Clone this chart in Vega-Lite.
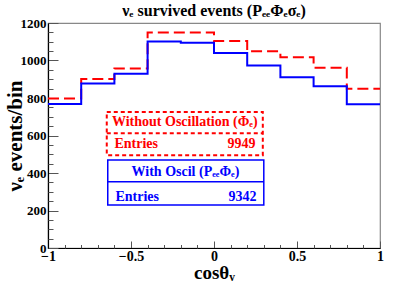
{
  "$schema": "https://vega.github.io/schema/vega-lite/v6.json",
  "width": 332,
  "height": 225,
  "autosize": "none",
  "padding": {"left": 48, "top": 23, "right": 35, "bottom": 35},
  "background": "white",
  "config": {
    "view": {"stroke": "#888888", "strokeWidth": 1.2},
    "font": "Liberation Serif",
    "axis": {"grid": false, "domain": false, "tickColor": "#555555", "tickWidth": 1, "labelOverlap": false, "labelFlush": false, "zindex": 1}
  },
  "title": {
    "text": "νₑ survived events (PₑₑΦₑσₑ)",
    "font": "Liberation Serif",
    "fontSize": 16,
    "fontWeight": "bold",
    "color": "black",
    "offset": -2,
    "anchor": "middle"
  },
  "resolve": {"axis": {"x": "independent", "y": "independent"}},
  "datasets": {
    "hist": [
      {"cos": -1.0, "events": 797, "series": "Without Oscillation"},
      {"cos": -0.8, "events": 902, "series": "Without Oscillation"},
      {"cos": -0.6, "events": 958, "series": "Without Oscillation"},
      {"cos": -0.4, "events": 1150, "series": "Without Oscillation"},
      {"cos": -0.2, "events": 1150, "series": "Without Oscillation"},
      {"cos": 0.0, "events": 1104, "series": "Without Oscillation"},
      {"cos": 0.2, "events": 1050, "series": "Without Oscillation"},
      {"cos": 0.4, "events": 1017, "series": "Without Oscillation"},
      {"cos": 0.6, "events": 962, "series": "Without Oscillation"},
      {"cos": 0.8, "events": 849, "series": "Without Oscillation"},
      {"cos": 1.0, "events": 849, "series": "Without Oscillation"},
      {"cos": -1.0, "events": 768, "series": "With Oscil"},
      {"cos": -0.8, "events": 877, "series": "With Oscil"},
      {"cos": -0.6, "events": 930, "series": "With Oscil"},
      {"cos": -0.4, "events": 1101, "series": "With Oscil"},
      {"cos": -0.2, "events": 1095, "series": "With Oscil"},
      {"cos": 0.0, "events": 1040, "series": "With Oscil"},
      {"cos": 0.2, "events": 974, "series": "With Oscil"},
      {"cos": 0.4, "events": 911, "series": "With Oscil"},
      {"cos": 0.6, "events": 863, "series": "With Oscil"},
      {"cos": 0.8, "events": 767, "series": "With Oscil"},
      {"cos": 1.0, "events": 767, "series": "With Oscil"}
    ],
    "boxes": [
      {"x1": -0.646, "x2": 0.294, "y1": 495, "y2": 726, "ymid": 612, "series": "Without Oscillation"},
      {"x1": -0.640, "x2": 0.300, "y1": 229, "y2": 469, "ymid": 353, "series": "With Oscil"}
    ],
    "labels": [
      {"x": -0.176, "y": 671, "text": "Without Oscillation (Φₑ)", "align": "center", "series": "Without Oscillation"},
      {"x": -0.600, "y": 554, "text": "Entries", "align": "left", "series": "Without Oscillation"},
      {"x": 0.250, "y": 554, "text": "9949", "align": "right", "series": "Without Oscillation"},
      {"x": -0.172, "y": 406, "text": "With Oscil (PₑₑΦₑ)", "align": "center", "series": "With Oscil"},
      {"x": -0.594, "y": 273, "text": "Entries", "align": "left", "series": "With Oscil"},
      {"x": 0.256, "y": 273, "text": "9342", "align": "right", "series": "With Oscil"}
    ]
  },
  "layer": [
    {
      "data": {"name": "boxes"},
      "transform": [{"filter": "datum.series === 'Without Oscillation'"}],
      "mark": {"type": "rect", "fill": "white", "stroke": "#ff0000", "strokeWidth": 2, "strokeDash": [4, 3]},
      "encoding": {
        "x": {"field": "x1", "type": "quantitative", "scale": {"domain": [-1, 1], "nice": false, "zero": false},
          "axis": {"orient": "bottom", "title": "cosθᵥ",
            "titleFont": "Liberation Serif", "titleFontSize": 19, "titleFontWeight": "bold", "titleColor": "black", "titlePadding": 0,
            "values": [-1, -0.5, 0, 0.5, 1],
            "labelExpr": "replace(format(datum.value, '~g'), '-', '−')",
            "labelFont": "Liberation Serif", "labelFontSize": 14, "labelFontWeight": "bold", "labelColor": "black",
            "labelPadding": 1, "ticks": true, "tickSize": 0,
            "domain": true, "domainColor": "black", "domainWidth": 1.2,
            "encoding": {"ticks": {"y2": {"value": -7}}}}},
        "x2": {"field": "x2"},
        "y": {"field": "y1", "type": "quantitative", "scale": {"domain": [0, 1200], "nice": false},
          "axis": {"orient": "left", "title": "νₑ events/bin",
            "titleFont": "Liberation Serif", "titleFontSize": 21, "titleFontWeight": "bold", "titleColor": "black", "titlePadding": -5,
            "values": [0, 200, 400, 600, 800, 1000, 1200], "format": "d",
            "labelFont": "Liberation Serif", "labelFontSize": 13, "labelFontWeight": "bold", "labelColor": "black",
            "labelPadding": 2, "ticks": true, "tickSize": 0,
            "domain": true, "domainColor": "black", "domainWidth": 1.2,
            "encoding": {"ticks": {"x2": {"value": 10}}}}},
        "y2": {"field": "y2"}
      }
    },
    {
      "data": {"name": "boxes"},
      "transform": [{"filter": "datum.series === 'Without Oscillation'"}],
      "mark": {"type": "rule", "color": "#ff0000", "strokeWidth": 2, "strokeDash": [4, 3]},
      "encoding": {
        "x": {"field": "x1", "type": "quantitative",
          "axis": {"orient": "top", "offset": -225, "title": null, "labels": false,
            "values": [-0.9, -0.8, -0.7, -0.6, -0.4, -0.3, -0.2, -0.1, 0.1, 0.2, 0.3, 0.4, 0.6, 0.7, 0.8, 0.9], "tickSize": 3.5}},
        "x2": {"field": "x2"},
        "y": {"field": "ymid", "type": "quantitative",
          "axis": {"orient": "right", "offset": -332, "title": null, "labels": false,
            "values": [50, 100, 150, 250, 300, 350, 450, 500, 550, 650, 700, 750, 850, 900, 950, 1050, 1100, 1150], "tickSize": 5}}
      }
    },
    {
      "data": {"name": "boxes"},
      "transform": [{"filter": "datum.series === 'With Oscil'"}],
      "mark": {"type": "rect", "fill": "white", "stroke": "#0000ff", "strokeWidth": 1.5},
      "encoding": {
        "x": {"field": "x1", "type": "quantitative", "axis": null},
        "x2": {"field": "x2"},
        "y": {"field": "y1", "type": "quantitative", "axis": null},
        "y2": {"field": "y2"}
      }
    },
    {
      "data": {"name": "boxes"},
      "transform": [{"filter": "datum.series === 'With Oscil'"}],
      "mark": {"type": "rule", "color": "#0000ff", "strokeWidth": 1.5},
      "encoding": {
        "x": {"field": "x1", "type": "quantitative", "axis": null},
        "x2": {"field": "x2"},
        "y": {"field": "ymid", "type": "quantitative", "axis": null}
      }
    },
    {
      "data": {"name": "hist"},
      "transform": [{"filter": "datum.series === 'Without Oscillation'"}],
      "mark": {"type": "line", "interpolate": "step-after", "strokeWidth": 2, "color": "#ff0000", "strokeDash": [11, 5]},
      "encoding": {
        "x": {"field": "cos", "type": "quantitative", "axis": null},
        "y": {"field": "events", "type": "quantitative", "axis": null}
      }
    },
    {
      "data": {"name": "hist"},
      "transform": [{"filter": "datum.series === 'With Oscil'"}],
      "mark": {"type": "line", "interpolate": "step-after", "strokeWidth": 2, "color": "#0000ff"},
      "encoding": {
        "x": {"field": "cos", "type": "quantitative", "axis": null},
        "y": {"field": "events", "type": "quantitative", "axis": null}
      }
    },
    {
      "data": {"name": "labels"},
      "transform": [{"filter": "datum.align === 'center'"}],
      "mark": {"type": "text", "font": "Liberation Serif", "fontSize": 14, "fontWeight": "bold", "baseline": "middle", "align": "center"},
      "encoding": {
        "x": {"field": "x", "type": "quantitative", "axis": null},
        "y": {"field": "y", "type": "quantitative", "axis": null},
        "text": {"field": "text"},
        "color": {"field": "series", "type": "nominal",
          "scale": {"domain": ["Without Oscillation", "With Oscil"], "range": ["#ff0000", "#0000ff"]}, "legend": null}
      }
    },
    {
      "data": {"name": "labels"},
      "transform": [{"filter": "datum.align === 'left'"}],
      "mark": {"type": "text", "font": "Liberation Serif", "fontSize": 14, "fontWeight": "bold", "baseline": "middle", "align": "left"},
      "encoding": {
        "x": {"field": "x", "type": "quantitative", "axis": null},
        "y": {"field": "y", "type": "quantitative", "axis": null},
        "text": {"field": "text"},
        "color": {"field": "series", "type": "nominal",
          "scale": {"domain": ["Without Oscillation", "With Oscil"], "range": ["#ff0000", "#0000ff"]}, "legend": null}
      }
    },
    {
      "data": {"name": "labels"},
      "transform": [{"filter": "datum.align === 'right'"}],
      "mark": {"type": "text", "font": "Liberation Serif", "fontSize": 14, "fontWeight": "bold", "baseline": "middle", "align": "right"},
      "encoding": {
        "x": {"field": "x", "type": "quantitative", "axis": null},
        "y": {"field": "y", "type": "quantitative", "axis": null},
        "text": {"field": "text"},
        "color": {"field": "series", "type": "nominal",
          "scale": {"domain": ["Without Oscillation", "With Oscil"], "range": ["#ff0000", "#0000ff"]}, "legend": null}
      }
    }
  ]
}
